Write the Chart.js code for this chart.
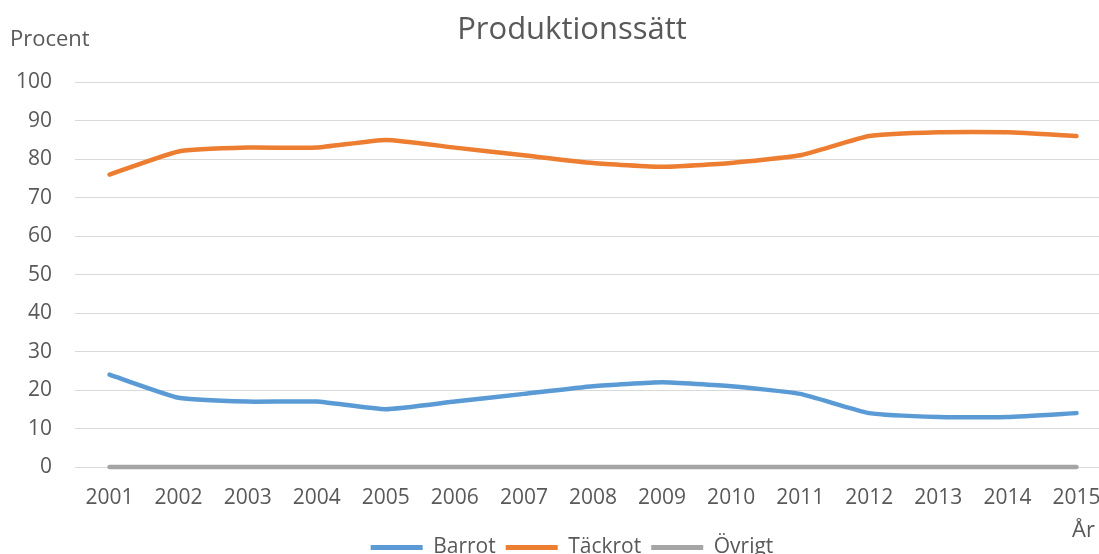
<!DOCTYPE html>
<html>
<head>
<meta charset="utf-8">
<script src="https://cdn.jsdelivr.net/npm/chart.js@4"></script>
<style>
  html, body { margin: 0; padding: 0; background: #fff; }
  #wrap { width: 1099px; height: 554px; overflow: hidden; position: relative; }
  #box { width: 1144px; height: 568px; position: absolute; left: 0; top: 0; }
</style>
</head>
<body>
<div id="wrap"><div id="box"><canvas id="chart"></canvas></div></div>
<script>
const years = ['2001','2002','2003','2004','2005','2006','2007','2008','2009','2010','2011','2012','2013','2014','2015'];
const barrot  = [24, 18, 17, 17, 15, 17, 19, 21, 22, 21, 19, 14, 13, 13, 14];
const tackrot = [76, 82, 83, 83, 85, 83, 81, 79, 78, 79, 81, 86, 87, 87, 86];
const ovrigt  = [0, 0, 0, 0, 0, 0, 0, 0, 0, 0, 0, 0, 0, 0, 0];
const yTicks = [0, 10, 20, 30, 40, 50, 60, 70, 80, 90, 100];

const textColor = '#595959';
const font = 'Open Sans';

// axis titles sit outside the usual places, draw them ourselves
const axisTitles = {
    id: 'axisTitles',
    afterDraw(chart) {
        const {ctx, chartArea} = chart;
        ctx.save();
        ctx.fillStyle = textColor;
        ctx.font = '22px "' + font + '"';
        ctx.textBaseline = 'middle';
        ctx.textAlign = 'left';
        ctx.fillText('Procent', 10, chartArea.top - 42);
        ctx.fillText('År', chartArea.right - 39, chartArea.bottom + 64);
        ctx.restore();
    }
};

function line(label, data, color) {
    return {
        label: label,
        data: data,
        borderColor: color,
        backgroundColor: color,
        borderWidth: 4.5,
        borderCapStyle: 'round',
        borderJoinStyle: 'round',
        pointRadius: 0,
        tension: 0.15,
        clip: false
    };
}

const ctx = document.getElementById('chart').getContext('2d');
new Chart(ctx, {
    type: 'line',
    data: {
        labels: years,
        datasets: [
            line('Barrot', barrot, '#5b9bd5'),
            line('Täckrot', tackrot, '#ed7d31'),
            line('Övrigt', ovrigt, '#a5a5a5')
        ]
    },
    options: {
        responsive: true,
        maintainAspectRatio: false,
        animation: false,
        layout: { padding: 0 },
        plugins: {
            title: {
                display: true,
                text: 'Produktionssätt',
                color: textColor,
                font: { family: font, size: 31, weight: 'normal' },
                padding: { top: 12, bottom: 33 }
            },
            legend: {
                position: 'bottom',
                labels: {
                    color: textColor,
                    font: { family: font, size: 21 },
                    boxWidth: 52,
                    boxHeight: 5,
                    padding: 10,
                    generateLabels(chart) {
                        const items = Chart.defaults.plugins.legend.labels.generateLabels(chart);
                        items.forEach(it => { it.lineWidth = 0; it.fillStyle = it.strokeStyle; });
                        return items;
                    }
                }
            },
            tooltip: { enabled: false }
        },
        scales: {
            x: {
                offset: true,
                grid: { display: false, drawTicks: false },
                border: { display: false },
                ticks: { color: textColor, font: { family: font, size: 21 }, padding: 18, maxRotation: 0, autoSkip: false },
                afterFit(scale) { scale.height = 60; }
            },
            y: {
                min: 0,
                max: 100,
                afterBuildTicks(scale) { scale.ticks = yTicks.map(v => ({ value: v })); },
                grid: { color: '#d9d9d9', lineWidth: 1, drawTicks: false },
                border: { display: false },
                ticks: { color: textColor, font: { family: font, size: 21 }, padding: 23 },
                afterFit(scale) { scale.width = 75; }
            },
            // empty right-hand strip, the plot runs past the visible edge
            spacer: {
                type: 'linear',
                position: 'right',
                grid: { display: false, drawTicks: false },
                border: { display: false },
                ticks: { display: false },
                afterFit(scale) { scale.width = 33; }
            }
        }
    },
    plugins: [axisTitles]
});
</script>
</body>
</html>
